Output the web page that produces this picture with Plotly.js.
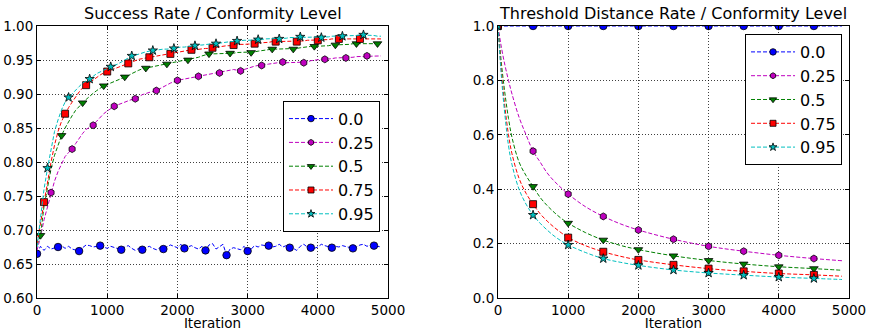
<!DOCTYPE html>
<html>
<head>
<meta charset="utf-8">
<script src="https://cdn.plot.ly/plotly-3.0.1.min.js"></script>
<style>html,body{margin:0;padding:0;background:#fff;}#chart{width:873px;height:331px;}</style>
</head>
<body>
<div id="chart"></div>
<script>
// ---------- DATA ----------
const seriesNames = ['0.0', '0.25', '0.5', '0.75', '0.95'];

// Left panel: success rate, sampled every 50 iterations from 0 to 4900
const leftStep = 50;
const success_00 = [0.665,0.676,0.670,0.676,0.672,0.674,0.675,0.677,0.673,0.676,0.672,0.670,0.669,0.674,0.678,0.677,0.675,0.676,0.677,0.675,
  0.673,0.676,0.674,0.672,0.671,0.675,0.677,0.673,0.670,0.673,0.671,0.674,0.676,0.673,0.671,0.674,0.672,0.675,0.678,0.676,
  0.674,0.679,0.673,0.675,0.677,0.674,0.672,0.676,0.670,0.678,0.680,0.672,0.676,0.679,0.663,0.672,0.674,0.673,0.671,0.676,
  0.669,0.672,0.677,0.675,0.678,0.677,0.677,0.675,0.676,0.679,0.675,0.677,0.674,0.673,0.670,0.676,0.679,0.675,0.674,0.673,
  0.675,0.679,0.677,0.675,0.674,0.676,0.675,0.677,0.676,0.674,0.673,0.675,0.678,0.679,0.676,0.678,0.677,0.676,0.675];
const success_025 = [0.670,0.690,0.715,0.735,0.755,0.772,0.786,0.798,0.808,0.814,0.819,0.827,0.835,0.842,0.848,0.851,0.854,0.860,0.866,0.871,
  0.875,0.879,0.882,0.884,0.886,0.888,0.890,0.892,0.893,0.896,0.899,0.901,0.903,0.904,0.905,0.908,0.911,0.914,0.916,0.918,
  0.920,0.921,0.922,0.923,0.924,0.925,0.926,0.927,0.928,0.929,0.930,0.930,0.931,0.932,0.933,0.935,0.936,0.935,0.934,0.936,
  0.938,0.940,0.941,0.942,0.942,0.943,0.944,0.945,0.946,0.947,0.947,0.946,0.946,0.946,0.946,0.946,0.946,0.947,0.949,0.950,
  0.951,0.951,0.951,0.951,0.952,0.953,0.953,0.953,0.953,0.954,0.954,0.955,0.955,0.956,0.956,0.955,0.955,0.955,0.956];
const success_05 = [0.678,0.692,0.735,0.765,0.790,0.810,0.826,0.839,0.850,0.860,0.868,0.876,0.882,0.887,0.892,0.897,0.901,0.905,0.909,0.912,
  0.914,0.916,0.918,0.921,0.923,0.925,0.927,0.930,0.933,0.935,0.937,0.938,0.939,0.940,0.941,0.942,0.943,0.944,0.945,0.946,
  0.947,0.948,0.949,0.950,0.951,0.952,0.954,0.956,0.958,0.959,0.959,0.959,0.960,0.960,0.960,0.960,0.960,0.961,0.961,0.961,
  0.961,0.961,0.962,0.963,0.964,0.965,0.965,0.966,0.966,0.966,0.966,0.966,0.966,0.966,0.967,0.968,0.969,0.969,0.970,0.970,
  0.970,0.971,0.971,0.971,0.972,0.972,0.972,0.973,0.973,0.973,0.974,0.974,0.974,0.974,0.974,0.974,0.974,0.974,0.974];
const success_075 = [0.680,0.710,0.741,0.775,0.800,0.825,0.845,0.860,0.871,0.880,0.888,0.896,0.903,0.909,0.913,0.917,0.921,0.925,0.928,0.931,
  0.933,0.935,0.937,0.940,0.942,0.943,0.945,0.947,0.949,0.951,0.952,0.953,0.954,0.955,0.956,0.957,0.958,0.958,0.959,0.960,
  0.961,0.962,0.963,0.964,0.965,0.965,0.966,0.966,0.967,0.967,0.968,0.969,0.970,0.970,0.971,0.971,0.972,0.972,0.973,0.973,
  0.973,0.974,0.974,0.975,0.975,0.976,0.976,0.977,0.977,0.977,0.977,0.977,0.977,0.977,0.977,0.978,0.978,0.979,0.979,0.979,
  0.979,0.980,0.980,0.980,0.981,0.981,0.981,0.981,0.981,0.981,0.981,0.981,0.981,0.982,0.982,0.982,0.981,0.981,0.981];
const success_095 = [0.675,0.720,0.760,0.791,0.820,0.845,0.862,0.877,0.888,0.895,0.900,0.906,0.911,0.916,0.919,0.922,0.926,0.930,0.933,0.935,
  0.937,0.940,0.942,0.944,0.947,0.950,0.953,0.956,0.957,0.959,0.960,0.962,0.963,0.964,0.964,0.965,0.966,0.966,0.967,0.967,
  0.968,0.969,0.969,0.970,0.971,0.971,0.972,0.972,0.973,0.973,0.974,0.974,0.975,0.976,0.976,0.977,0.977,0.978,0.978,0.979,
  0.979,0.979,0.980,0.980,0.980,0.981,0.981,0.981,0.981,0.981,0.982,0.982,0.983,0.983,0.984,0.984,0.984,0.984,0.983,0.983,
  0.983,0.983,0.984,0.984,0.985,0.985,0.985,0.985,0.986,0.986,0.986,0.986,0.987,0.987,0.987,0.986,0.986,0.985,0.985];
// first marked iteration per series (markers every 300 iterations)
const leftMarkStart = [0, 200, 50, 100, 150];
const leftMarkEvery = 300;

// Right panel: threshold distance rate
const thrIter = [0,50,100,150,200,300,400,500,600,700,800,900,1000,1250,1500,1750,2000,2500,3000,3500,4000,4500,4900];
const thr_00  = [1,1,1,1,1,1,1,1,1,1,1,1,1,1,1,1,1,1,1,1,1,1,1];
const thr_025 = [1.0,0.92,0.855,0.80,0.75,0.665,0.60,0.54,0.50,0.46,0.43,0.405,0.382,0.335,0.30,0.272,0.25,0.216,0.19,0.172,0.157,0.145,0.137];
const thr_05  = [1.0,0.86,0.75,0.66,0.59,0.50,0.45,0.41,0.37,0.34,0.315,0.293,0.275,0.24,0.213,0.193,0.178,0.155,0.138,0.125,0.115,0.108,0.102];
const thr_075 = [1.0,0.83,0.70,0.60,0.53,0.44,0.385,0.345,0.31,0.283,0.26,0.24,0.222,0.192,0.17,0.153,0.14,0.122,0.108,0.098,0.09,0.085,0.08];
const thr_095 = [1.0,0.81,0.67,0.56,0.49,0.40,0.345,0.305,0.275,0.25,0.228,0.21,0.195,0.167,0.145,0.131,0.12,0.103,0.092,0.084,0.077,0.072,0.068];
const rightMarkEvery = 500;

// ---------- STYLE ----------
const colors  = ['#0000ff', '#bf00bf', '#008000', '#ff0000', '#00bfbf'];
const symbols = ['circle', 'hexagon', 'triangle-down', 'square', 'star'];
const msizes  = [7.5, 7, 7.5, 7, 7];
const dashPat = '4px,2px';

const leftSeries  = [success_00, success_025, success_05, success_075, success_095];
const rightSeries = [thr_00, thr_025, thr_05, thr_075, thr_095];
const leftIter = success_00.map((_, i) => i * leftStep);

const traces = [];
function addSeries(k, xs, ys, xa, ya, markFilter, legendId) {
  traces.push({
    x: xs, y: ys, xaxis: xa, yaxis: ya, type: 'scatter', mode: 'lines',
    line: {color: colors[k], width: 1, dash: dashPat, shape: ya === 'y2' ? 'spline' : 'linear'},
    showlegend: false, hoverinfo: 'skip'
  });
  const mx = [], my = [];
  xs.forEach((x, i) => { if (markFilter(x)) { mx.push(x); my.push(ys[i]); } });
  traces.push({
    x: mx, y: my, xaxis: xa, yaxis: ya, type: 'scatter', mode: 'markers', cliponaxis: true,
    marker: {symbol: symbols[k], color: colors[k], size: msizes[k], line: {color: '#000', width: 0.8}},
    showlegend: false, hoverinfo: 'skip'
  });
  traces.push({
    x: [null], y: [null], xaxis: xa, yaxis: ya, type: 'scatter', mode: 'lines+markers',
    name: seriesNames[k], legend: legendId,
    line: {color: colors[k], width: 1, dash: dashPat},
    marker: {symbol: symbols[k], color: colors[k], size: msizes[k] - 1, line: {color: '#000', width: 0.8}}
  });
}
for (let k = 0; k < 5; k++) {
  addSeries(k, leftIter, leftSeries[k], 'x', 'y',
    x => x >= leftMarkStart[k] && (x - leftMarkStart[k]) % leftMarkEvery === 0 && x < 4900, 'legend');
}
for (let k = 0; k < 5; k++) {
  addSeries(k, thrIter, rightSeries[k], 'x2', 'y2',
    x => x % rightMarkEvery === 0 && x <= 4500, 'legend2');
}

const axisBase = {
  showline: true, linecolor: '#000', linewidth: 1, mirror: 'allticks',
  ticks: 'inside', ticklen: 4, tickwidth: 1, tickcolor: '#000',
  showgrid: true, gridcolor: 'rgba(0,0,0,0.75)', gridwidth: 1, griddash: '1px,2px',
  zeroline: false, fixedrange: true,
  tickfont: {family: 'DejaVu Sans', size: 13.5, color: '#000'}
};
const xBase = Object.assign({}, axisBase, {
  range: [0, 5000], tick0: 0, dtick: 1000, tickformat: 'd',
  title: {text: 'Iteration', standoff: 0, font: {family: 'DejaVu Sans', size: 13.5, color: '#000'}}
});
const legendBase = {
  bgcolor: '#fff', bordercolor: '#000', borderwidth: 1,
  font: {family: 'DejaVu Sans', size: 16, color: '#000'},
  itemwidth: 44, tracegroupgap: 0, xanchor: 'right', yanchor: 'top', itemclick: false
};

const layout = {
  width: 873, height: 331,
  margin: {l: 37, r: 24, t: 26, b: 33, pad: 0},
  paper_bgcolor: '#fff', plot_bgcolor: '#fff',
  font: {family: 'DejaVu Sans', size: 13.5, color: '#000'},
  xaxis: Object.assign({}, xBase, {domain: [0, 0.4323], anchor: 'y'}),
  yaxis: Object.assign({}, axisBase, {domain: [0, 1], anchor: 'x', range: [0.6, 1.0], tick0: 0.6, dtick: 0.05, tickformat: '.2f'}),
  xaxis2: Object.assign({}, xBase, {domain: [0.5677, 1], anchor: 'y2'}),
  yaxis2: Object.assign({}, axisBase, {domain: [0, 1], anchor: 'x2', range: [0, 1.0], tick0: 0, dtick: 0.2, tickformat: '.1f'}),
  legend: Object.assign({}, legendBase, {x: 0.4224, y: 0.7254}),
  legend2: Object.assign({}, legendBase, {x: 0.9914, y: 0.9706}),
  annotations: [
    {text: 'Success Rate / Conformity Level', xref: 'paper', yref: 'paper', x: 0.2162, y: 1,
     xanchor: 'center', yanchor: 'bottom', yshift: 1, showarrow: false,
     font: {family: 'DejaVu Sans', size: 16, color: '#000'}},
    {text: 'Threshold Distance Rate / Conformity Level', xref: 'paper', yref: 'paper', x: 0.7838, y: 1,
     xanchor: 'center', yanchor: 'bottom', yshift: 1, showarrow: false,
     font: {family: 'DejaVu Sans', size: 16, color: '#000'}}
  ],
  showlegend: true
};

Plotly.newPlot('chart', traces, layout, {displayModeBar: false, staticPlot: true});
</script>
</body>
</html>
